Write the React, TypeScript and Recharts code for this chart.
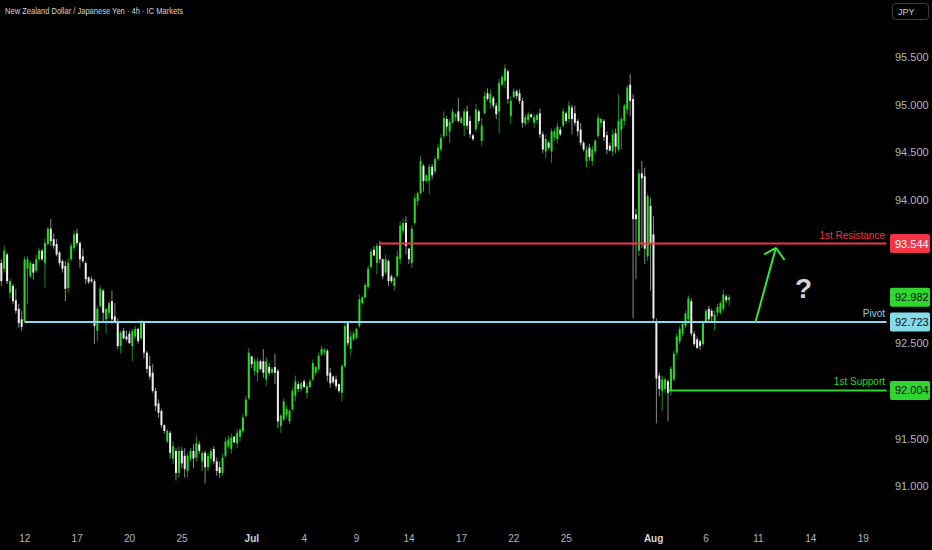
import { Bar, ComposedChart, ReferenceDot, ReferenceLine, XAxis, YAxis } from 'recharts';

// 4h candles, [open, high, low, close]
const ohlc: number[][] = [
  [93.34, 93.38, 93.10, 93.15], [93.28, 93.52, 93.24, 93.47], [93.43, 93.45, 93.12, 93.15], [93.03, 93.18, 92.97, 93.15],
  [93.10, 93.12, 92.91, 92.94], [92.95, 93.07, 92.81, 92.84], [92.86, 92.91, 92.66, 92.71], [92.75, 92.84, 92.63, 92.67],
  [92.73, 93.41, 92.71, 93.38], [93.28, 93.41, 92.91, 93.38], [93.20, 93.36, 93.18, 93.34], [93.33, 93.34, 93.17, 93.24],
  [93.26, 93.43, 93.24, 93.38], [93.38, 93.50, 93.36, 93.47], [93.47, 93.49, 93.36, 93.38], [93.34, 93.60, 93.08, 93.55],
  [93.54, 93.72, 93.52, 93.70], [93.70, 93.80, 93.52, 93.57], [93.59, 93.65, 93.49, 93.52], [93.54, 93.59, 93.41, 93.43],
  [93.45, 93.47, 93.31, 93.34], [93.36, 93.38, 93.24, 93.28], [93.31, 93.36, 92.94, 93.07], [93.08, 93.39, 93.03, 93.34],
  [93.38, 93.55, 93.36, 93.52], [93.50, 93.68, 93.47, 93.64], [93.65, 93.70, 93.52, 93.55], [93.55, 93.57, 93.29, 93.38],
  [93.41, 93.49, 93.34, 93.36], [93.34, 93.36, 93.12, 93.17], [93.19, 93.20, 93.12, 93.14], [93.17, 93.20, 93.13, 93.15],
  [93.15, 93.17, 92.49, 92.68], [92.63, 92.89, 92.52, 92.86], [92.89, 93.10, 92.87, 93.07], [93.05, 93.07, 92.71, 92.82],
  [92.75, 92.87, 92.60, 92.86], [92.82, 92.94, 92.76, 92.92], [92.94, 93.05, 92.70, 92.75], [92.78, 92.92, 92.71, 92.73],
  [92.73, 92.76, 92.44, 92.47], [92.47, 92.63, 92.39, 92.61], [92.63, 92.66, 92.54, 92.55], [92.57, 92.63, 92.52, 92.54],
  [92.60, 92.63, 92.49, 92.50], [92.47, 92.65, 92.31, 92.63], [92.57, 92.68, 92.54, 92.65], [92.65, 92.66, 92.49, 92.52],
  [92.55, 92.75, 92.54, 92.71], [92.71, 92.73, 92.34, 92.40], [92.40, 92.42, 92.19, 92.23], [92.26, 92.37, 92.12, 92.15],
  [92.19, 92.28, 91.98, 92.00], [92.00, 92.03, 91.79, 91.84], [91.87, 91.91, 91.72, 91.77], [91.79, 91.81, 91.61, 91.64],
  [91.64, 91.65, 91.55, 91.58], [91.47, 91.60, 91.45, 91.58], [91.56, 91.58, 91.29, 91.35], [91.29, 91.47, 91.23, 91.42],
  [91.37, 91.40, 91.06, 91.14], [91.14, 91.42, 91.09, 91.37], [91.37, 91.41, 91.19, 91.24], [91.32, 91.40, 91.09, 91.18],
  [91.16, 91.35, 91.09, 91.32], [91.29, 91.40, 91.26, 91.37], [91.37, 91.44, 91.19, 91.29], [91.30, 91.53, 91.26, 91.45],
  [91.44, 91.47, 91.34, 91.37], [91.26, 91.37, 91.16, 91.35], [91.35, 91.37, 91.03, 91.20], [91.20, 91.35, 91.16, 91.32],
  [91.29, 91.40, 91.24, 91.37], [91.39, 91.42, 91.23, 91.26], [91.26, 91.30, 91.11, 91.16], [91.20, 91.26, 91.09, 91.14],
  [91.14, 91.34, 91.11, 91.30], [91.32, 91.51, 91.30, 91.47], [91.42, 91.53, 91.40, 91.49], [91.39, 91.55, 91.34, 91.51],
  [91.52, 91.53, 91.45, 91.46], [91.45, 91.60, 91.40, 91.56], [91.52, 91.61, 91.47, 91.59], [91.58, 91.76, 91.56, 91.72],
  [91.74, 91.95, 91.72, 91.91], [91.92, 92.45, 91.91, 92.40], [92.36, 92.37, 92.24, 92.28], [92.21, 92.35, 92.16, 92.31],
  [92.19, 92.35, 92.10, 92.31], [92.31, 92.33, 92.21, 92.23], [92.31, 92.44, 92.14, 92.19], [92.12, 92.35, 92.05, 92.31],
  [92.25, 92.29, 92.16, 92.19], [92.19, 92.25, 92.18, 92.23], [92.25, 92.39, 92.07, 92.19], [92.21, 92.23, 91.61, 91.68],
  [91.63, 91.76, 91.56, 91.74], [91.70, 91.92, 91.68, 91.89], [91.75, 91.85, 91.72, 91.81], [91.68, 91.81, 91.65, 91.79],
  [91.81, 92.03, 91.79, 92.00], [91.95, 92.16, 91.89, 92.10], [92.07, 92.10, 91.99, 92.02], [92.02, 92.10, 91.99, 92.08],
  [92.10, 92.12, 92.03, 92.04], [91.98, 92.08, 91.92, 92.05], [92.04, 92.13, 92.03, 92.10], [92.12, 92.33, 92.10, 92.29],
  [92.19, 92.26, 92.16, 92.25], [92.23, 92.40, 92.21, 92.37], [92.38, 92.47, 92.37, 92.44], [92.40, 92.45, 92.37, 92.43],
  [92.42, 92.44, 92.10, 92.16], [92.19, 92.24, 92.03, 92.08], [92.15, 92.16, 92.07, 92.09], [92.12, 92.16, 92.02, 92.05],
  [92.07, 92.08, 91.98, 92.00], [91.98, 92.28, 91.89, 92.26], [92.26, 92.73, 92.24, 92.68], [92.71, 92.73, 92.47, 92.50],
  [92.44, 92.63, 92.37, 92.57], [92.54, 92.63, 92.52, 92.60], [92.56, 92.66, 92.54, 92.65], [92.68, 93.01, 92.66, 92.96],
  [92.92, 93.00, 92.90, 92.98], [92.98, 93.13, 92.97, 93.11], [93.09, 93.31, 93.07, 93.28], [93.30, 93.49, 93.28, 93.46],
  [93.48, 93.52, 93.41, 93.42], [93.34, 93.55, 93.22, 93.52], [93.52, 93.57, 93.34, 93.38], [93.38, 93.39, 93.17, 93.20],
  [93.24, 93.43, 93.22, 93.38], [93.36, 93.38, 93.10, 93.15], [93.20, 93.22, 93.13, 93.15], [93.10, 93.20, 93.05, 93.18],
  [93.20, 93.47, 93.20, 93.41], [93.38, 93.78, 93.33, 93.73], [93.68, 93.80, 93.64, 93.76], [93.76, 93.83, 93.43, 93.52],
  [93.49, 93.50, 93.33, 93.38], [93.34, 93.73, 93.29, 93.70], [93.76, 94.06, 93.74, 94.02], [93.99, 94.09, 93.94, 94.07],
  [94.07, 94.46, 94.06, 94.41], [94.36, 94.38, 94.09, 94.20], [94.20, 94.27, 94.18, 94.26], [94.20, 94.38, 94.06, 94.35],
  [94.35, 94.38, 94.22, 94.26], [94.30, 94.46, 94.28, 94.43], [94.43, 94.59, 94.41, 94.55], [94.53, 94.69, 94.51, 94.65],
  [94.67, 94.93, 94.65, 94.86], [94.85, 94.88, 94.67, 94.77], [94.72, 94.85, 94.60, 94.82], [94.81, 94.96, 94.80, 94.93],
  [94.87, 94.91, 94.83, 94.90], [94.93, 95.07, 94.81, 94.83], [94.81, 94.88, 94.80, 94.86], [94.78, 94.96, 94.67, 94.93],
  [94.93, 94.99, 94.74, 94.78], [94.83, 94.88, 94.65, 94.69], [94.68, 94.69, 94.62, 94.64], [94.74, 95.01, 94.72, 94.95],
  [94.93, 94.95, 94.80, 94.83], [94.62, 94.86, 94.57, 94.78], [94.91, 95.14, 94.90, 95.09], [95.12, 95.17, 95.04, 95.06],
  [95.02, 95.16, 94.96, 95.11], [95.07, 95.09, 94.96, 94.99], [94.99, 95.02, 94.85, 94.90], [94.93, 95.27, 94.70, 95.23],
  [95.21, 95.32, 95.19, 95.29], [95.25, 95.43, 95.17, 95.38], [95.35, 95.37, 95.01, 95.06], [94.88, 95.09, 94.80, 95.04],
  [95.08, 95.17, 95.07, 95.14], [95.14, 95.16, 95.06, 95.09], [95.12, 95.16, 95.01, 95.04], [95.04, 95.07, 94.76, 94.81],
  [94.80, 94.90, 94.78, 94.87], [94.84, 94.93, 94.81, 94.90], [94.90, 94.91, 94.86, 94.87], [94.81, 94.90, 94.76, 94.87],
  [94.84, 94.91, 94.80, 94.89], [94.91, 94.96, 94.65, 94.69], [94.69, 94.72, 94.49, 94.53], [94.51, 94.69, 94.44, 94.64],
  [94.60, 94.62, 94.53, 94.55], [94.51, 94.75, 94.39, 94.72], [94.66, 94.75, 94.62, 94.72], [94.64, 94.81, 94.59, 94.77],
  [94.74, 94.77, 94.67, 94.69], [94.78, 94.96, 94.76, 94.93], [94.91, 94.93, 94.80, 94.83], [94.85, 95.04, 94.81, 94.99],
  [94.97, 95.00, 94.69, 94.85], [94.91, 94.99, 94.78, 94.81], [94.83, 94.85, 94.67, 94.72], [94.74, 94.81, 94.57, 94.60],
  [94.60, 94.62, 94.51, 94.53], [94.41, 94.57, 94.34, 94.53], [94.55, 94.59, 94.41, 94.45], [94.41, 94.57, 94.36, 94.53],
  [94.51, 94.64, 94.48, 94.62], [94.67, 94.90, 94.65, 94.86], [94.81, 94.86, 94.76, 94.85], [94.83, 94.85, 94.62, 94.66],
  [94.68, 94.72, 94.48, 94.53], [94.57, 94.60, 94.51, 94.52], [94.51, 94.74, 94.46, 94.69], [94.70, 94.75, 94.49, 94.56],
  [94.53, 95.11, 94.51, 94.83], [94.74, 94.87, 94.53, 94.85], [94.83, 95.01, 94.78, 94.99], [94.95, 95.21, 94.90, 95.18],
  [95.21, 95.32, 94.88, 95.04], [95.06, 95.11, 92.76, 93.80], [93.85, 93.91, 93.17, 93.80], [93.47, 94.32, 93.41, 94.28],
  [94.28, 94.41, 93.50, 94.23], [94.25, 94.34, 93.33, 93.49], [93.41, 94.07, 93.36, 94.04], [93.94, 94.02, 93.05, 93.54],
  [93.64, 93.83, 92.73, 92.76], [92.73, 92.76, 91.66, 92.13], [92.16, 92.19, 91.94, 92.02], [92.00, 92.16, 91.79, 92.12],
  [92.02, 92.14, 91.98, 92.12], [92.10, 92.12, 91.68, 91.98], [92.00, 92.26, 91.95, 92.23], [92.12, 92.42, 92.10, 92.39],
  [92.40, 92.60, 92.37, 92.57], [92.52, 92.68, 92.49, 92.65], [92.60, 92.73, 92.57, 92.70], [92.68, 92.84, 92.66, 92.81],
  [92.75, 93.00, 92.73, 92.97], [92.94, 92.97, 92.57, 92.60], [92.60, 92.63, 92.47, 92.49], [92.54, 92.57, 92.44, 92.45],
  [92.52, 92.54, 92.43, 92.47], [92.49, 92.73, 92.47, 92.71], [92.73, 92.86, 92.71, 92.84], [92.86, 92.89, 92.73, 92.75],
  [92.84, 92.86, 92.72, 92.78], [92.73, 92.84, 92.63, 92.80], [92.82, 92.91, 92.78, 92.88], [92.82, 92.94, 92.80, 92.92],
  [92.86, 93.06, 92.84, 93.01], [92.99, 93.01, 92.92, 92.95], [92.95, 93.01, 92.89, 92.982],
];

// time slots on the x axis (candles plus empty future space)
const slotCount = 305;
const tickSlots = [8, 26, 44, 62, 86, 104, 122, 140, 158, 176, 194, 224, 242, 260, 278, 296];
const tickLabels = ['12', '17', '20', '25', 'Jul', '4', '9', '14', '17', '22', '25', 'Aug', '6', '11', '14', '19'];

const priceTicks = [91, 91.5, 92.004, 92.5, 92.723, 92.982, 93.544, 94, 94.5, 95, 95.5];
const resistance = 93.544;
const pivot = 92.723;
const support = 92.004;
const lastPrice = 92.982;

// where each level line starts (slot index)
const resistanceFrom = 130;
const pivotFrom = 8;
const supportFrom = 229;

// hand-drawn arrow: shaft start, tip, wing ends (slot, price)
const arrowStart = { x: 259, y: 92.723 };
const arrowTip = { x: 266, y: 93.5 };
const arrowWings = [{ x: 262, y: 93.43 }, { x: 269, y: 93.37 }];

const UP = '#2bd92b';
const UP_WICK = '#1d8a1d';
const DOWN = '#ededed';
const DOWN_WICK = '#8a8a8a';
const RED = '#f23645';
const BLUE = '#86dbea';
const GREEN = '#2fd62f';
const AXIS_TEXT = '#b2b5be';
const FONT = '"Liberation Sans", Arial, sans-serif';

const rows = Array.from({ length: slotCount }, (_, i) => {
  const c = ohlc[i];
  return c ? { i, o: c[0], h: c[1], l: c[2], c: c[3], range: [c[2], c[1]] } : { i, range: null };
});

function Candle(props: any) {
  const { x, y, width, height, payload } = props;
  if (!payload || payload.o == null) return null;
  const { o, h, l, c } = payload;
  const top = Math.min(y, y + height);
  const full = Math.abs(height);
  const span = h - l || 1;
  const py = (v: number) => top + ((h - v) / span) * full;
  const cx = x + width / 2;
  const up = c >= o;
  const bTop = py(Math.max(o, c));
  const bBot = py(Math.min(o, c));
  return (
    <g>
      <rect x={cx - 0.5} y={top} width={1} height={Math.max(full, 1)} fill={up ? UP_WICK : DOWN_WICK} />
      <rect x={cx - 1} y={bTop} width={2} height={Math.max(bBot - bTop, 1)} fill={up ? UP : DOWN} />
    </g>
  );
}

const boxes: Record<string, { bg: string; fg: string }> = {
  [String(resistance)]: { bg: RED, fg: '#ffffff' },
  [String(lastPrice)]: { bg: GREEN, fg: '#0b0b0b' },
  [String(pivot)]: { bg: BLUE, fg: '#0b0b0b' },
  [String(support)]: { bg: GREEN, fg: '#0b0b0b' },
};

function PriceTick(props: any) {
  const { y, payload } = props;
  const v = payload.value as number;
  const box = boxes[String(v)];
  const label = v.toFixed(3);
  if (box) {
    return (
      <g>
        <rect x={890} y={y - 9.5} width={40} height={19} rx={2} fill={box.bg} />
        <text x={895} y={y + 4} fill={box.fg} fontSize={11} fontFamily={FONT}>
          {label}
        </text>
      </g>
    );
  }
  return (
    <text x={895} y={y + 4} fill={AXIS_TEXT} fontSize={11} fontFamily={FONT}>
      {label}
    </text>
  );
}

function TimeTick(props: any) {
  const { x, y, payload } = props;
  const label = tickLabels[tickSlots.indexOf(payload.value)];
  const month = label === 'Jul' || label === 'Aug';
  return (
    <text x={x} y={y + 9} textAnchor="middle" fill={month ? '#d1d4dc' : AXIS_TEXT} fontSize={10} fontWeight={month ? 700 : 400} fontFamily={FONT}>
      {label}
    </text>
  );
}

const levelText = (text: string, color: string) => (p: any) => (
  <text x={885} y={p.cy - 5} textAnchor="end" fill={color} fontSize={10} fontFamily={FONT}>
    {text}
  </text>
);

export default function App() {
  return (
    <div style={{ position: 'fixed', left: 0, top: 0, width: 932, height: 550, background: '#000' }}>
      <ComposedChart width={932} height={550} data={rows} margin={{ top: 0, right: 0, bottom: 0, left: 0 }}>
        <XAxis
          dataKey="i"
          type="category"
          ticks={tickSlots}
          interval={0}
          tick={<TimeTick />}
          tickLine={false}
          axisLine={false}
          height={25}
        />
        <YAxis
          orientation="right"
          type="number"
          domain={[90.594, 96.0975]}
          allowDataOverflow
          ticks={priceTicks}
          interval={0}
          tick={<PriceTick />}
          tickLine={false}
          axisLine={false}
          width={44}
        />
        <ReferenceLine segment={[{ x: resistanceFrom, y: resistance }, { x: slotCount - 1, y: resistance }]} stroke={RED} strokeWidth={2} />
        <ReferenceLine segment={[{ x: pivotFrom, y: pivot }, { x: slotCount - 1, y: pivot }]} stroke={BLUE} strokeWidth={2} />
        <ReferenceLine segment={[{ x: supportFrom, y: support }, { x: slotCount - 1, y: support }]} stroke={GREEN} strokeWidth={2} />
        <Bar dataKey="range" shape={(p: any) => <Candle {...p} />} isAnimationActive={false} />
        <ReferenceLine segment={[arrowStart, arrowTip]} stroke="#36e436" strokeWidth={2} />
        {arrowWings.map((w, n) => (
          <ReferenceLine key={n} segment={[w, arrowTip]} stroke="#36e436" strokeWidth={2} />
        ))}
        <ReferenceDot x={slotCount - 1} y={resistance} r={0} shape={levelText('1st Resistance', RED)} />
        <ReferenceDot x={slotCount - 1} y={pivot} r={0} shape={levelText('Pivot', BLUE)} />
        <ReferenceDot x={slotCount - 1} y={support} r={0} shape={levelText('1st Support', GREEN)} />
        <ReferenceDot
          x={275}
          y={92.97}
          r={0}
          shape={(p: any) => (
            <text x={p.cx + 1.5} y={p.cy} textAnchor="middle" fill="#d4d4d4" fontSize={28} fontWeight={700} fontFamily={FONT}>
              ?
            </text>
          )}
        />
      </ComposedChart>
      <svg width={932} height={30} style={{ position: 'absolute', left: 0, top: 0, pointerEvents: 'none' }}>
        <text x={5} y={14} fill="#d1d4dc" fontSize={9.5} fontFamily={FONT} textLength={178} lengthAdjust="spacingAndGlyphs">
          New Zealand Dollar / Japanese Yen · 4h · IC Markets
        </text>
        <rect x={892.5} y={3.5} width={36} height={16} rx={3} fill="#000" stroke="#3a3d45" />
        <text x={898} y={15} fill="#d1d4dc" fontSize={9} fontFamily={FONT}>
          JPY
        </text>
      </svg>
    </div>
  );
}
